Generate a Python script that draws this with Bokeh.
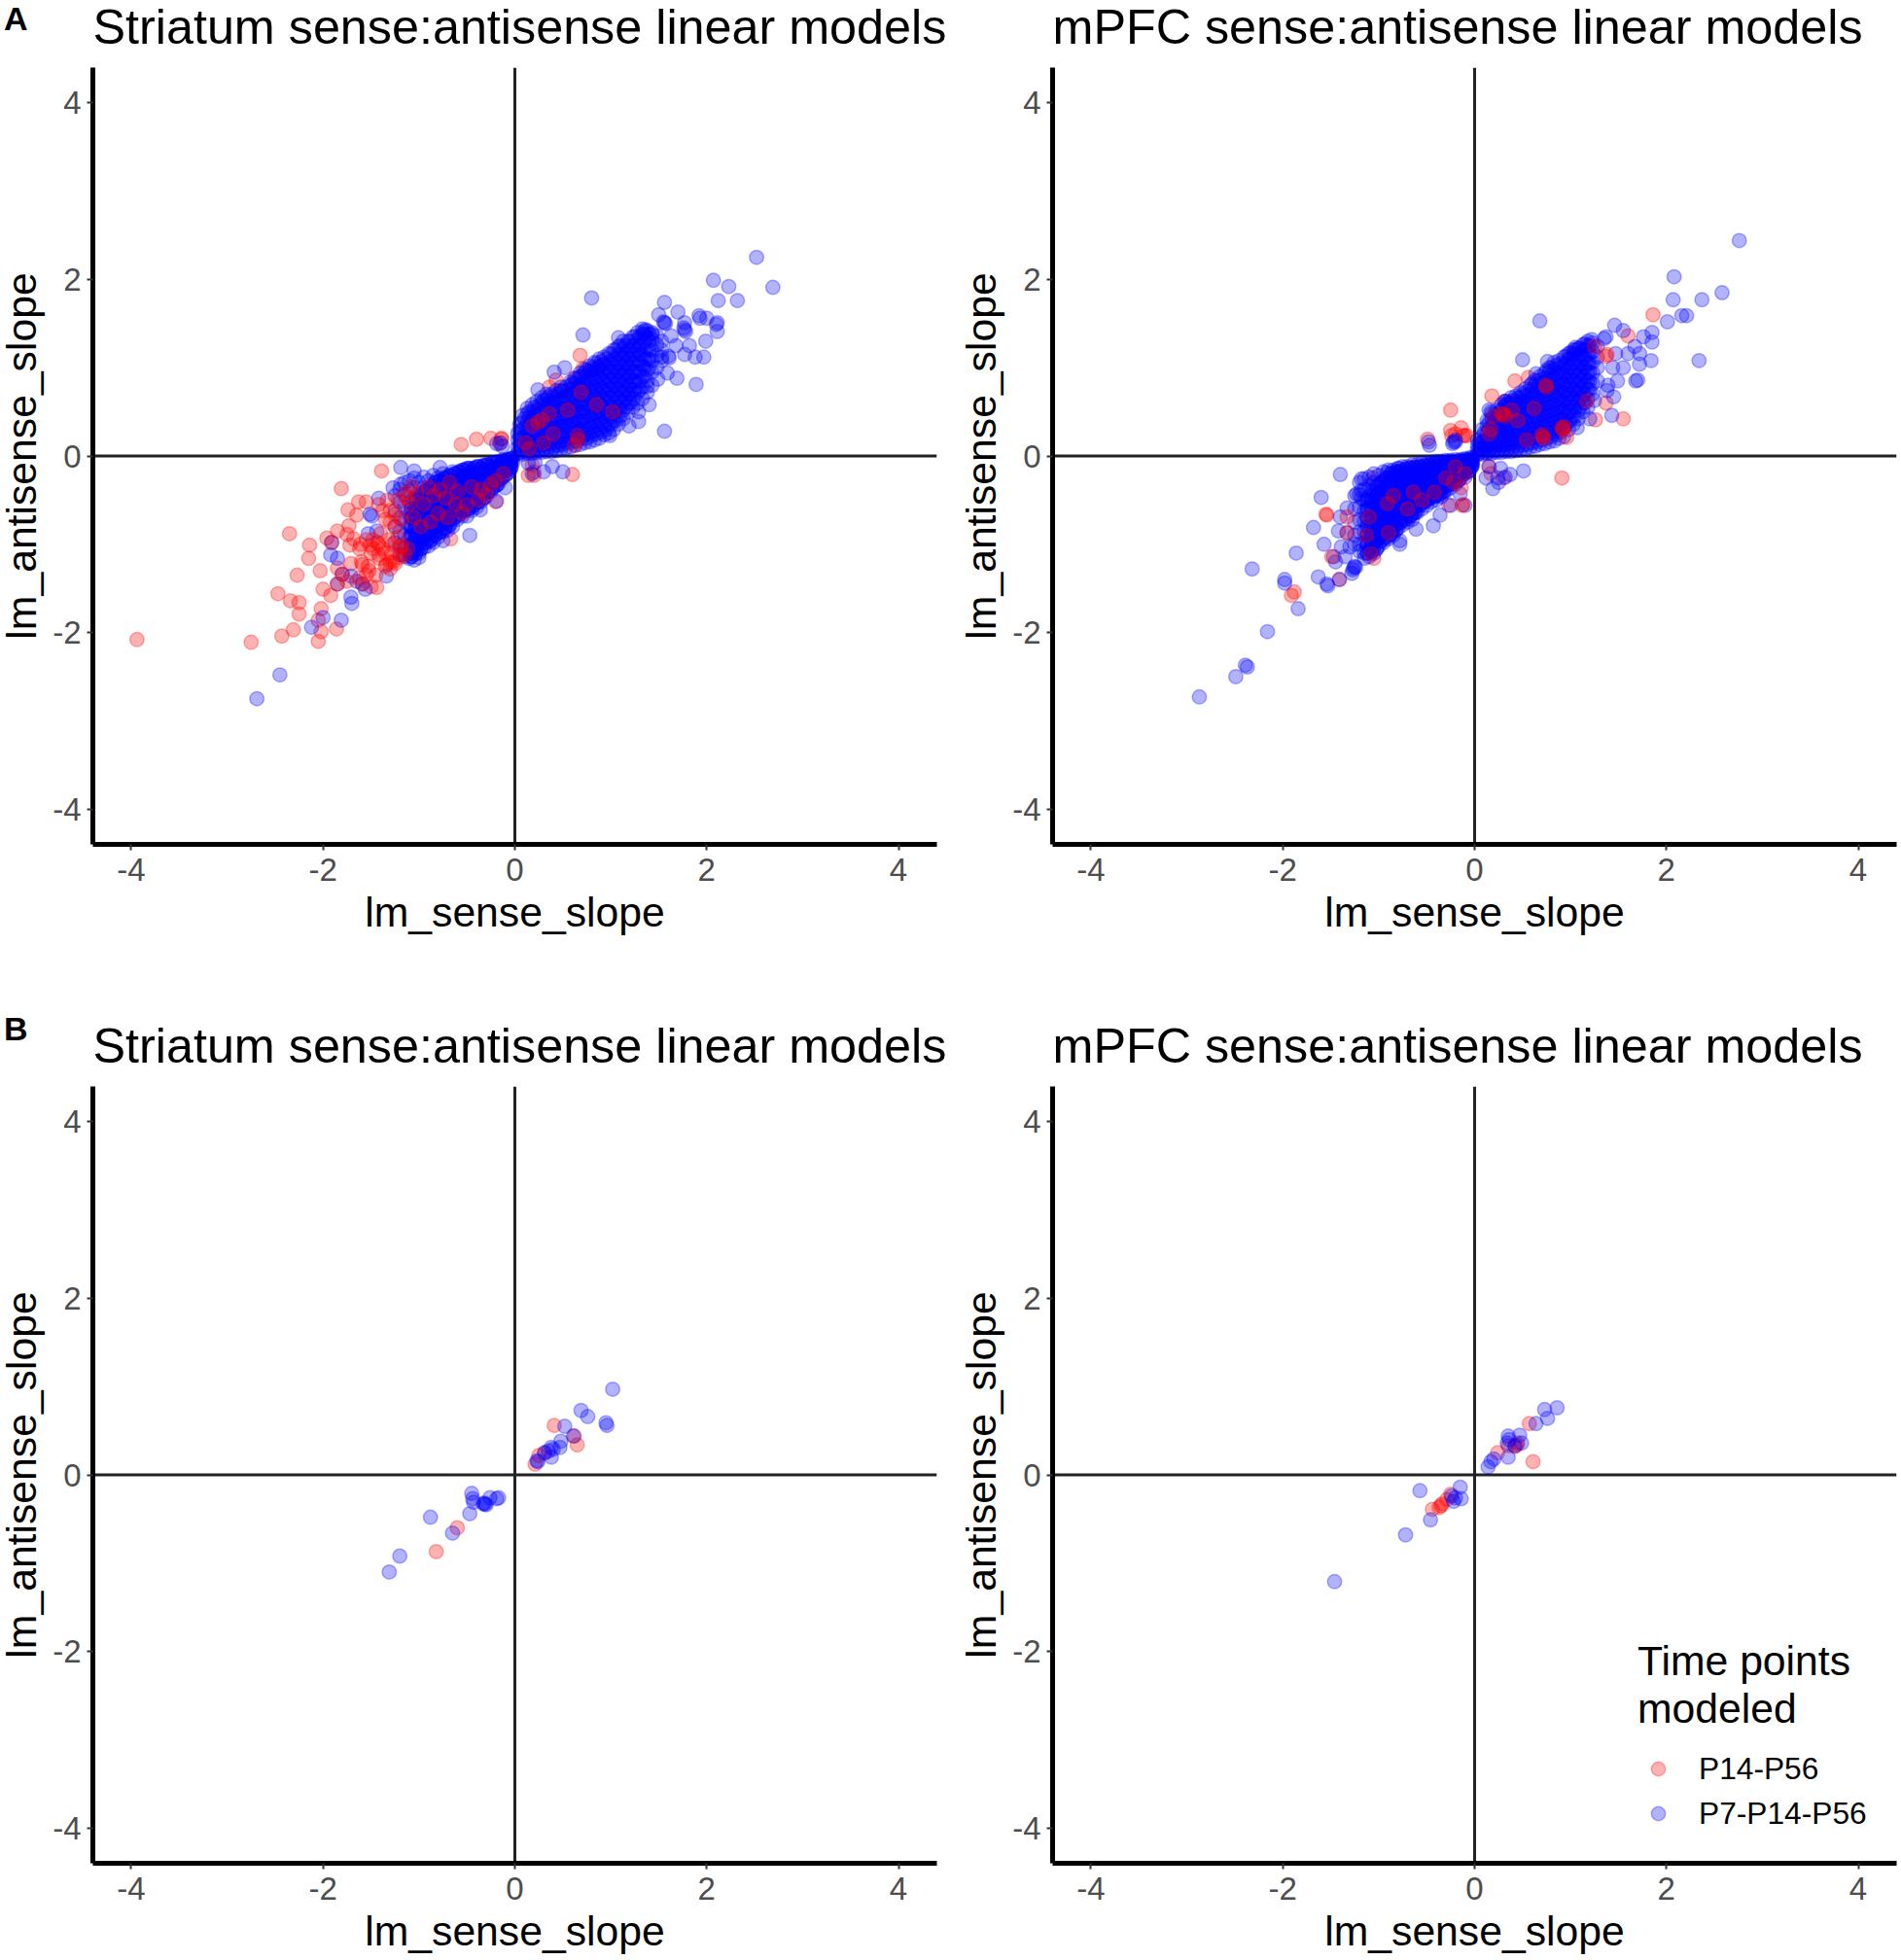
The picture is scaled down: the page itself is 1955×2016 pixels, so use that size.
from bokeh.embed import file_html
from bokeh.layouts import column, row
from bokeh.models import ColumnDataSource, Div, FixedTicker, Legend, LegendItem, Range1d, Span
from bokeh.plotting import figure
from bokeh.resources import INLINE

FONT = "Liberation Sans"
RED = "#ff0000"
BLUE = "#0000ff"

# Values. Dense bands are kept as (x, [y, y, ...]) columns.
tick_values = [-4, -2, 0, 2, 4]
tick_labels = {-4: "-4", -2: "-2", 0: "0", 2: "2", 4: "4"}

# panel A, striatum
a_str_blue_neg = [(-1.25, [-.45, -.62, -.8, -.98]), (-1.2, [-.38, -.52, -.7, -.86, -1.02, -1.12]),
    (-1.15, [-.3, -.44, -.58, -.74, -.9, -1.04, -1.14]), (-1.1, [-.28, -.4, -.52, -.66, -.8, -.92, -1.06, -1.16]),
    (-1.05, [-.25, -.36, -.48, -.6, -.72, -.85, -.97, -1.08, -1.18]), (-1.0, [-.3, -.42, -.54, -.66, -.78, -.88, -1.0, -1.1, -1.15]),
    (-.95, [-.24, -.36, -.48, -.6, -.7, -.82, -.93, -1.04]), (-.9, [-.28, -.4, -.5, -.62, -.72, -.84, -.94, -1.02]),
    (-.85, [-.22, -.34, -.44, -.56, -.66, -.76, -.88, -.98]), (-.8, [-.25, -.36, -.48, -.58, -.7, -.8, -.92]),
    (-.75, [-.2, -.3, -.42, -.52, -.64, -.74, -.86]), (-.7, [-.24, -.34, -.46, -.56, -.66, -.76, -.84]),
    (-.65, [-.18, -.28, -.38, -.5, -.6, -.7, -.8]), (-.6, [-.2, -.32, -.42, -.52, -.62, -.72]),
    (-.55, [-.16, -.26, -.36, -.46, -.56, -.68]), (-.5, [-.14, -.22, -.3, -.4, -.5, -.6, -.68]),
    (-.45, [-.18, -.26, -.34, -.44, -.54, -.62]), (-.4, [-.12, -.2, -.3, -.38, -.48, -.58]),
    (-.35, [-.14, -.24, -.32, -.42, -.52]), (-.3, [-.1, -.18, -.26, -.36, -.46]), (-.25, [-.12, -.2, -.3, -.4]),
    (-.2, [-.08, -.16, -.24, -.34]), (-.15, [-.1, -.18, -.27]), (-.1, [-.06, -.14, -.22]),
    (-.05, [-.04, -.1, -.16]), (-.02, [-.02, -.07])]
a_str_blue_neg_core = [(-1.08, [-.6, -.7, -.8, -.9, -1.0, -1.1, -1.14]), (-1.03, [-.5, -.6, -.7, -.8, -.9, -1.0, -1.1]),
    (-.98, [-.45, -.55, -.65, -.75, -.85, -.95, -1.05]), (-.93, [-.4, -.5, -.6, -.7, -.8, -.9, -.98]),
    (-.88, [-.36, -.46, -.56, -.66, -.76, -.86, -.96]), (-.83, [-.3, -.4, -.5, -.6, -.7, -.8, -.9]),
    (-.78, [-.28, -.38, -.48, -.58, -.68, -.78, -.86]), (-.73, [-.25, -.35, -.45, -.55, -.65, -.75, -.82]),
    (-.68, [-.22, -.32, -.42, -.52, -.62, -.72, -.78]), (-.63, [-.2, -.3, -.4, -.5, -.6, -.7]),
    (-.58, [-.18, -.28, -.38, -.48, -.58, -.66]), (-.53, [-.16, -.25, -.34, -.44, -.54, -.62]),
    (-.48, [-.14, -.24, -.32, -.42, -.52, -.6]), (-.43, [-.14, -.22, -.3, -.4, -.5, -.56]),
    (-.38, [-.12, -.2, -.28, -.36, -.44, -.52]), (-.33, [-.11, -.19, -.27, -.35, -.43, -.48]),
    (-.28, [-.1, -.17, -.25, -.33, -.4]), (-.23, [-.08, -.15, -.22, -.3, -.36]), (-.18, [-.07, -.13, -.2, -.27, -.32]),
    (-.13, [-.05, -.11, -.17, -.24]), (-.08, [-.04, -.09, -.15, -.2]), (-.04, [-.03, -.08, -.13])]
a_str_blue_pos = [(.03, [.03, .1, .18, .26]), (.08, [.02, .1, .2, .3, .38, .46]), (.13, [.03, .1, .18, .28, .38, .48, .54]),
    (.18, [.03, .1, .2, .3, .4, .5, .58]), (.23, [.04, .12, .22, .32, .42, .52, .62]), (.28, [.04, .12, .2, .3, .4, .5, .6, .66]),
    (.33, [.05, .14, .24, .34, .44, .54, .64, .7]), (.38, [.05, .14, .22, .32, .42, .52, .62, .7]),
    (.43, [.06, .16, .26, .36, .46, .56, .66, .74]), (.48, [.08, .16, .26, .34, .44, .54, .64, .74, .78]),
    (.53, [.09, .18, .28, .38, .48, .58, .68, .78]), (.58, [.1, .2, .3, .4, .5, .6, .7, .8, .84]),
    (.63, [.12, .22, .32, .42, .52, .62, .72, .82, .88]), (.68, [.13, .22, .3, .4, .5, .6, .7, .8, .9, .94]),
    (.73, [.15, .24, .34, .44, .54, .64, .74, .84, .94, .98]), (.78, [.16, .26, .36, .46, .56, .66, .76, .86, .96, 1.02]),
    (.83, [.18, .28, .38, .48, .58, .68, .78, .88, .98, 1.06]), (.88, [.2, .3, .4, .5, .6, .7, .8, .9, 1.0, 1.1]),
    (.93, [.24, .34, .44, .54, .64, .74, .84, .94, 1.04, 1.12]), (.98, [.26, .36, .46, .56, .66, .76, .86, .96, 1.06, 1.16]),
    (1.03, [.3, .4, .5, .6, .7, .8, .9, 1.0, 1.1, 1.2]), (1.08, [.36, .46, .56, .66, .76, .86, .96, 1.06, 1.16, 1.24]),
    (1.13, [.42, .52, .62, .72, .82, .92, 1.02, 1.12, 1.22, 1.3]), (1.18, [.5, .6, .7, .8, .9, 1.0, 1.1, 1.2, 1.3]),
    (1.23, [.55, .65, .75, .85, .95, 1.05, 1.15, 1.25, 1.35]), (1.28, [.6, .72, .84, .96, 1.08, 1.2, 1.32, 1.4]),
    (1.33, [.65, .78, .9, 1.02, 1.14, 1.26, 1.38, 1.44]), (1.38, [.72, .85, .98, 1.1, 1.22, 1.34, 1.42]),
    (1.43, [.8, .95, 1.08, 1.2, 1.32, 1.4]), (1.48, [1.0, 1.14, 1.26, 1.36]), (1.53, [1.08, 1.2, 1.3])]
a_str_blue_pos_core = [(.05, [.04, .12, .2, .28, .36]), (.1, [.05, .13, .22, .32, .42]), (.15, [.06, .14, .24, .34, .44, .5]),
    (.2, [.06, .15, .25, .35, .45, .55]), (.25, [.07, .17, .27, .37, .47, .57]), (.3, [.08, .17, .27, .37, .47, .57, .63]),
    (.35, [.1, .2, .3, .4, .5, .6, .67]), (.4, [.1, .2, .3, .4, .5, .6, .68]), (.45, [.12, .22, .32, .42, .52, .62, .7]),
    (.5, [.13, .23, .33, .43, .53, .63, .73]), (.55, [.15, .25, .35, .45, .55, .65, .75]), (.6, [.16, .26, .36, .46, .56, .66, .76, .82]),
    (.65, [.17, .27, .37, .47, .57, .67, .77, .87]), (.7, [.2, .3, .4, .5, .6, .7, .8, .9]), (.75, [.2, .3, .4, .5, .6, .7, .8, .9, .97]),
    (.8, [.23, .33, .43, .53, .63, .73, .83, .93, 1.0]), (.85, [.25, .35, .45, .55, .65, .75, .85, .95, 1.05]),
    (.9, [.27, .37, .47, .57, .67, .77, .87, .97, 1.07]), (.95, [.3, .4, .5, .6, .7, .8, .9, 1.0, 1.1]),
    (1.0, [.35, .45, .55, .65, .75, .85, .95, 1.05, 1.15]), (1.05, [.4, .5, .6, .7, .8, .9, 1.0, 1.1, 1.2]),
    (1.1, [.45, .55, .65, .75, .85, .95, 1.05, 1.15, 1.25]), (1.15, [.55, .65, .75, .85, .95, 1.05, 1.15, 1.25]),
    (1.2, [.6, .7, .8, .9, 1.0, 1.1, 1.2, 1.3]), (1.25, [.65, .75, .85, .95, 1.05, 1.15, 1.25, 1.35]),
    (1.3, [.75, .85, .95, 1.05, 1.15, 1.25, 1.35]), (1.35, [.9, 1.0, 1.1, 1.2, 1.3, 1.38]), (1.4, [1.0, 1.1, 1.2, 1.3, 1.38])]
a_str_blue_pts = [(-2.69, -2.75), (-2.45, -2.48), (-2.12, -1.94), (-2.0, -1.83), (-1.81, -1.86), (-1.7, -1.67), (-1.71, -1.6),
    (-1.85, -1.16), (-1.92, -1.12), (-1.91, -.98), (-1.71, -1.36), (-1.8, -1.34), (-1.59, -1.45), (-1.56, -1.51), (-1.65, -1.42),
    (-1.34, -1.36), (-1.85, -1.45), (-1.53, -.88), (-1.44, -.85), (-1.51, -.66), (-1.49, -.68), (-1.42, -.48), (-1.27, -.36),
    (-1.19, -.13), (-1.05, -.17), (-1.19, -.32), (-.78, -.13), (-.47, -.9), (-.75, -.96), (-.19, -.51), (-.36, -.61), (-.1, -.36),
    (-.19, .14), (-.13, .11), (-.15, .15), (2.52, 2.25), (2.69, 1.91), (2.07, 1.99), (2.23, 1.92), (2.12, 1.76), (2.32, 1.76),
    (1.56, 1.74), (1.5, 1.6), (1.7, 1.63), (1.56, 1.51), (1.55, 1.52), (1.57, 1.5), (1.92, 1.59), (1.93, 1.56), (2.0, 1.56), (2.11, 1.51),
    (2.1, 1.49), (2.11, 1.41), (1.77, 1.43), (1.78, 1.41), (1.76, 1.45), (1.77, 1.51), (1.99, 1.3), (1.82, 1.25), (1.77, 1.15), (1.88, 1.12),
    (1.97, 1.12), (1.89, .81), (1.69, .88), (1.56, .28), (.8, 1.79), (.71, 1.37), (1.08, 1.34), (.52, 1.0), (.41, .95), (.24, .75),
    (.87, 1.01), (1.49, .87), (1.59, .94), (1.38, .79), (1.4, .58), (1.29, .5), (1.19, .34), (1.29, .39), (.99, .23), (1.63, 1.36),
    (1.68, 1.25), (1.61, 1.11), (1.6, 1.13), (1.53, 1.12), (1.34, 1.41), (1.36, 1.43), (1.43, 1.38), (.14, -.08), (.21, -.07),
    (.39, -.12), (.5, -.18), (.3, -.18), (.18, -.2)]
a_str_red_pts = [(-3.94, -2.08), (-2.75, -2.11), (-2.43, -2.04), (-2.31, -1.97), (-2.05, -2.1), (-1.86, -1.96), (-2.25, -1.79),
    (-2.25, -1.66), (-2.34, -1.64), (-2.47, -1.56), (-2.27, -1.35), (-2.03, -1.3), (-2.15, -1.16), (-2.14, -1.01), (-2.35, -.88),
    (-1.81, -.37), (-1.39, -.17), (-1.74, -.61), (-1.63, -.52), (-1.55, -.52), (-1.65, -.67), (-1.85, -.85), (-1.96, -.93),
    (-1.73, -.79), (-1.75, -.89), (-1.72, -1.01), (-1.61, -1.0), (-1.51, -1.01), (-1.43, -.98), (-2.0, -1.51), (-1.92, -1.58),
    (-2.02, -1.73), (-2.05, -1.86), (-2.02, -1.99), (-1.85, -1.27), (-1.71, -1.22), (-1.59, -1.23), (-1.53, -1.25), (-1.44, -1.49),
    (-1.5, -1.48), (-1.34, -1.23), (-1.27, -1.2), (-1.17, -1.12), (-1.41, -1.16), (-.56, .13), (-.4, .19), (-.25, .2), (-.14, .2),
    (-.67, -.94), (.68, 1.14), (.71, .99), (.43, .86), (.36, .78), (.62, .88), (.5, .74), (.9, 1.03), (.6, -.21), (-.14, .19), (-.16, .14),
    (.18, -.1), (.2, -.18), (.2, -.22), (.14, -.22), (-.2, -.52)]
a_str_red_top = [(-1.35, -1.25), (-1.3, -1.2), (-1.25, -1.22), (-1.2, -1.15), (-1.15, -1.12), (-1.28, -1.1), (-1.2, -1.05), (-1.35, -1.1),
    (-1.42, -1.0), (-1.48, -.95), (-1.4, -.88), (-1.35, -.72), (-1.3, -.62), (-1.22, -.5), (-1.15, -.42), (-1.08, -.35), (-1.1, -.55),
    (-1.05, -.7), (-.95, -.55), (-.88, -.75), (-.85, -.45), (-.8, -.65), (-.72, -.48), (-.7, -.7), (-.62, -.55), (-.6, -.4), (-.55, -.65),
    (-.5, -.55), (-.45, -.35), (-.38, -.5), (-.35, -.38), (-.3, -.44), (-.25, -.32), (-.2, -.28), (-.12, -.2), (-1.85, -1.45), (-1.91, -.98),
    (-1.59, -1.45), (-1.8, -1.34), (-1.6, -1.2), (-1.3, -1.28), (.28, .41), (.18, .34), (.36, .48), (.65, .23), (.66, .18), (.62, .12),
    (.69, .72), (.85, .58), (1.02, .5), (.55, .52), (.11, .15), (.24, .38), (.4, .25), (.3, .15), (.15, .08),
    (-1.68, -.94), (-1.62, -1.05), (-1.55, -.95), (-1.5, -1.1), (-1.48, -1.05), (-1.42, -1.12), (-1.38, -1.05), (-1.32, -.95), (-1.28, -1.0),
    (-1.22, -.92), (-1.18, -1.02), (-1.12, -1.05), (-1.25, -.8), (-1.3, -.75), (-1.38, -.62), (-1.42, -.55), (-1.33, -.5), (-1.25, -.66),
    (-1.18, -.72), (-1.12, -.48), (-1.02, -.42), (-.98, -.8), (-.9, -.35), (-.78, -.38), (-.68, -.3), (-1.52, -1.3), (-1.62, -1.38),
    (-1.45, -1.35), (-1.75, -1.42), (-1.55, -1.35)]

# panel A, mPFC
a_pfc_blue_neg = [(-1.25, [-.45, -.6, -.75, -.9, -1.0]), (-1.2, [-.3, -.44, -.58, -.72, -.86, -1.0, -1.08]),
    (-1.15, [-.26, -.38, -.5, -.62, -.74, -.86, -.98, -1.1, -1.16]), (-1.1, [-.24, -.34, -.46, -.58, -.7, -.82, -.94, -1.06, -1.14]),
    (-1.05, [-.2, -.3, -.42, -.54, -.66, -.78, -.9, -1.02, -1.1]), (-1.0, [-.22, -.32, -.42, -.52, -.62, -.72, -.82, -.92, -1.02]),
    (-.95, [-.18, -.28, -.38, -.48, -.58, -.68, -.78, -.88, -.98]), (-.9, [-.16, -.26, -.36, -.46, -.56, -.66, -.76, -.86, -.94]),
    (-.85, [-.16, -.25, -.34, -.44, -.54, -.64, -.74, -.84, -.9]), (-.8, [-.14, -.22, -.32, -.42, -.52, -.62, -.72, -.82]),
    (-.75, [-.12, -.2, -.3, -.4, -.5, -.6, -.7, -.78]), (-.7, [-.12, -.2, -.28, -.38, -.48, -.58, -.68, -.75]),
    (-.65, [-.1, -.18, -.26, -.36, -.46, -.56, -.66, -.72]), (-.6, [-.1, -.17, -.26, -.34, -.44, -.54, -.64]),
    (-.55, [-.08, -.16, -.24, -.32, -.42, -.52, -.6]), (-.5, [-.08, -.14, -.22, -.3, -.4, -.5, -.56]),
    (-.45, [-.07, -.13, -.2, -.28, -.36, -.44, -.52]), (-.4, [-.06, -.12, -.2, -.28, -.36, -.44, -.5]),
    (-.35, [-.06, -.12, -.18, -.26, -.34, -.42, -.46]), (-.3, [-.05, -.11, -.17, -.24, -.32, -.4]),
    (-.25, [-.05, -.1, -.16, -.22, -.3, -.36]), (-.2, [-.04, -.1, -.16, -.22, -.28, -.32]), (-.15, [-.04, -.09, -.14, -.2, -.26]),
    (-.1, [-.03, -.08, -.13, -.18, -.24]), (-.05, [-.02, -.07, -.12, -.16]), (-.02, [-.02, -.06, -.1])]
a_pfc_blue_neg_core = [(-1.12, [-.5, -.6, -.7, -.8, -.9, -1.0, -1.1]), (-1.07, [-.4, -.5, -.6, -.7, -.8, -.9, -1.0, -1.08]),
    (-1.02, [-.35, -.45, -.55, -.65, -.75, -.85, -.95, -1.05]), (-.97, [-.3, -.4, -.5, -.6, -.7, -.8, -.9, -.96]),
    (-.92, [-.25, -.35, -.45, -.55, -.65, -.75, -.85, -.92]), (-.87, [-.2, -.3, -.4, -.5, -.6, -.7, -.8, -.88]),
    (-.82, [-.18, -.28, -.38, -.48, -.58, -.68, -.78, -.84]), (-.77, [-.17, -.25, -.35, -.45, -.55, -.65, -.75]),
    (-.72, [-.15, -.24, -.33, -.43, -.53, -.63, -.72]), (-.67, [-.14, -.22, -.31, -.41, -.51, -.61, -.68]),
    (-.62, [-.13, -.21, -.3, -.38, -.48, -.58, -.64]), (-.57, [-.12, -.2, -.28, -.36, -.46, -.56]),
    (-.52, [-.11, -.18, -.26, -.34, -.44, -.52]), (-.47, [-.1, -.17, -.24, -.32, -.4, -.48]), (-.42, [-.09, -.16, -.23, -.31, -.39, -.46]),
    (-.37, [-.08, -.15, -.22, -.3, -.38, -.44]), (-.32, [-.08, -.14, -.2, -.27, -.34, -.4]), (-.27, [-.07, -.13, -.19, -.26, -.33]),
    (-.22, [-.07, -.12, -.18, -.24, -.3]), (-.17, [-.06, -.11, -.17, -.22, -.28]), (-.12, [-.05, -.1, -.15, -.21]),
    (-.07, [-.04, -.09, -.14, -.18]), (-.03, [-.04, -.08, -.12])]
a_pfc_blue_pos = [(.03, [.02, .07, .12, .18]), (.08, [.02, .08, .15, .22, .3]), (.13, [.03, .1, .18, .26, .34, .4]),
    (.18, [.03, .1, .18, .26, .34, .42, .48]), (.23, [.04, .12, .2, .28, .36, .44, .52]), (.28, [.04, .12, .2, .28, .36, .44, .52, .58]),
    (.33, [.05, .13, .22, .3, .4, .5, .58, .62]), (.38, [.05, .14, .22, .32, .42, .52, .6, .66]), (.43, [.06, .15, .24, .34, .44, .54, .62, .68]),
    (.48, [.07, .16, .26, .36, .46, .56, .66, .72]), (.53, [.08, .18, .28, .38, .48, .58, .68, .76]), (.58, [.1, .2, .3, .4, .5, .6, .7, .8]),
    (.63, [.11, .2, .3, .4, .5, .6, .7, .8, .86]), (.68, [.13, .22, .32, .42, .52, .62, .72, .82, .9]),
    (.73, [.14, .24, .34, .44, .54, .64, .74, .84, .94]), (.78, [.16, .26, .36, .46, .56, .66, .76, .86, .96, 1.0]),
    (.83, [.17, .27, .38, .48, .58, .68, .78, .88, .98, 1.06]), (.88, [.2, .3, .4, .5, .6, .7, .8, .9, 1.0, 1.08]),
    (.93, [.22, .32, .42, .52, .62, .72, .82, .92, 1.02, 1.12]), (.98, [.3, .4, .5, .6, .7, .8, .9, 1.0, 1.1, 1.16]),
    (1.03, [.36, .46, .56, .66, .76, .86, .96, 1.06, 1.16, 1.2]), (1.08, [.42, .52, .62, .72, .82, .92, 1.02, 1.12, 1.22]),
    (1.13, [.5, .6, .7, .8, .9, 1.0, 1.1, 1.2, 1.26]), (1.18, [.55, .65, .75, .85, .95, 1.05, 1.15, 1.25, 1.3]),
    (1.23, [.7, .82, .94, 1.06, 1.18, 1.28]), (1.28, [.85, 1.0, 1.12, 1.24])]
a_pfc_blue_pos_core = [(.05, [.03, .09, .15]), (.1, [.04, .11, .18, .26]), (.15, [.05, .13, .21, .3, .38]), (.2, [.06, .14, .22, .3, .38, .46]),
    (.25, [.07, .16, .24, .32, .4, .48]), (.3, [.08, .16, .24, .32, .4, .48, .55]), (.35, [.09, .18, .26, .35, .45, .55, .6]),
    (.4, [.1, .18, .27, .37, .47, .57, .63]), (.45, [.1, .2, .29, .39, .49, .59, .66]), (.5, [.12, .21, .31, .41, .51, .61, .7]),
    (.55, [.13, .23, .33, .43, .53, .63, .73]), (.6, [.15, .25, .35, .45, .55, .65, .75, .82]), (.65, [.16, .25, .35, .45, .55, .65, .75, .85]),
    (.7, [.18, .27, .37, .47, .57, .67, .77, .87]), (.75, [.2, .29, .39, .49, .59, .69, .79, .89, .97]),
    (.8, [.22, .31, .41, .51, .61, .71, .81, .91, 1.0]), (.85, [.24, .33, .43, .53, .63, .73, .83, .93, 1.03]),
    (.9, [.27, .35, .45, .55, .65, .75, .85, .95, 1.05]), (.95, [.35, .45, .55, .65, .75, .85, .95, 1.05, 1.13]),
    (1.0, [.4, .5, .6, .7, .8, .9, 1.0, 1.1, 1.17]), (1.05, [.45, .55, .65, .75, .85, .95, 1.05, 1.15, 1.2]),
    (1.1, [.55, .65, .75, .85, .95, 1.05, 1.15, 1.22]), (1.15, [.6, .7, .8, .9, 1.0, 1.1, 1.2, 1.27]), (1.2, [.75, .85, .95, 1.05, 1.15, 1.25])]
a_pfc_blue_pts = [(-2.32, -1.28), (-2.16, -1.99), (-2.37, -2.39), (-2.39, -2.37), (-2.49, -2.5), (-2.87, -2.73), (-1.98, -1.4), (-1.98, -1.44),
    (-1.84, -1.73), (-1.86, -1.1), (-1.68, -.81), (-1.6, -.47), (-1.4, -.21), (-1.57, -1.0), (-1.63, -1.37), (-1.54, -1.45), (-1.53, -1.47),
    (-1.41, -1.4), (-1.47, -1.14), (-1.45, -1.2), (-1.4, -.69), (-1.33, -.59), (-1.42, -.85), (-1.33, -.87), (-1.39, -1.03), (-1.3, -1.03),
    (-1.35, -1.14), (-1.26, -1.27), (-1.25, -1.25), (-1.27, -1.29), (-1.24, -1.26), (-1.28, -1.33), (-1.18, -.26), (-1.23, -.43), (-1.18, -.39),
    (-1.18, -.48), (-.91, -.19), (-.79, -.14), (-.43, -.79), (-.61, -.83), (-.78, -1.0), (-.78, -.96), (-.36, -.67), (-.25, -.56), (-.1, -.56),
    (-.15, -.43), (-.47, .12), (-.48, .16), (-.22, .16), (-.2, .18), (-.23, .14), (.12, -.25), (.19, -.37), (.24, -.25), (.27, -.14),
    (2.76, 2.44), (2.08, 2.03), (2.07, 1.77), (2.37, 1.77), (2.58, 1.85), (2.01, 1.52), (2.16, 1.59), (2.21, 1.59), (2.34, 1.08), (.68, 1.53),
    (.5, 1.09), (.76, 1.07), (.64, .93), (1.46, 1.48), (1.55, 1.42), (1.85, 1.4), (1.76, 1.35), (1.85, 1.29), (1.72, 1.16), (1.84, 1.08),
    (1.72, 1.04), (1.55, 1.0), (1.44, 1.0), (1.67, 1.24), (1.6, 1.16), (1.47, 1.16), (1.68, .85), (1.7, .86), (1.49, .85), (1.39, .8), (1.38, .74),
    (1.45, .67), (1.43, .46), (1.2, .42), (1.07, .32), (1.35, 1.33), (1.37, 1.35), (1.22, 1.32), (1.05, 1.23), (1.25, .63), (.15, .52), (.17, .5),
    (.32, .62), (-.2, .16), (.51, -.17), (.15, -.12), (.37, -.21), (.25, -.3), (.32, -.24)]
a_pfc_red_pts = [(-1.55, -.66), (-1.54, -.67), (-1.88, -1.54), (-1.91, -1.58), (-1.41, -1.4), (-1.05, -1.16), (-1.06, -.25), (-.66, -.13),
    (-.49, .19), (-.24, .23), (-.12, .23), (-.2, .25), (-.08, .23), (-.14, .32), (-.25, .52), (-.25, .29), (-.1, .23), (.15, -.12),
    (.17, -.2), (1.86, 1.6), (1.6, 1.36), (1.55, .42), (1.26, .41), (1.37, .6), (.42, .85), (.56, .89), (.18, .68), (.31, .62), (.91, -.25),
    (-.13, -.56), (-.27, -.56), (.3, -.25)]
a_pfc_red_top = [(-1.33, -.69), (-1.33, -.87), (-1.49, -1.14), (-1.08, -1.11), (-1.13, -.9), (-.9, -.87), (-1.1, -.69), (-.91, -.54), (-.42, -.41),
    (-.64, -.41), (-.14, -.36), (-.12, -.55), (-.22, -.3), (-.7, -.6), (-.55, -.5), (-.3, -.25), (-.85, -.45), (-.2, -.12), (-.1, -.2),
    (.74, .8), (.75, .78), (1.37, 1.13), (1.38, 1.15), (1.25, 1.24), (.91, .32), (.92, .3), (.93, .33), (.71, .22), (.72, .2), (.7, .24),
    (.96, .21), (.3, .47), (.32, .45), (.28, .48), (.39, .52), (.17, .3), (1.17, .62), (.54, .18), (.62, .54), (.2, .45), (.45, .4), (.15, .25)]

# panel B, striatum
b_str_blue_pts = [(1.02, .97), (.69, .73), (.76, .66), (.95, .59), (.96, .56), (.52, .55), (.61, .44), (.48, .38), (.47, .31), (.38, .31), (.4, .29),
    (.35, .27), (.38, .2), (.31, .25), (.24, .15), (.23, .16), (-.45, -.21), (-.44, -.27), (-.26, -.26), (-.17, -.26), (-.19, -.27), (-.31, -.33),
    (-.3, -.34), (-.32, -.32), (-.33, -.33), (-.47, -.44), (-.88, -.48), (-.65, -.66), (-1.2, -.92), (-1.31, -1.1), (-.43, -.31)]
b_str_red_pts = [(.41, .56), (.62, .44), (.65, .34), (.31, .25), (.21, .12), (.25, .22), (-.6, -.6), (-.82, -.87)]

# panel B, mPFC
b_pfc_blue_pts = [(.86, .76), (.73, .74), (.76, .64), (.64, .58), (.35, .44), (.47, .45), (.49, .36), (.34, .36), (.35, .2), (.2, .18), (.14, .09),
    (.17, .15), (.42, .33), (.36, .4), (-.15, -.14), (-.14, -.27), (-.2, -.26), (-.24, -.24), (-.22, -.3), (-.57, -.18), (-.46, -.51),
    (-.72, -.68), (-1.46, -1.21)]
b_pfc_red_pts = [(.57, .58), (.61, .15), (.24, .25), (.44, .34), (.42, .32), (.45, .36), (-.25, -.22), (-.34, -.33), (-.37, -.37), (-.35, -.35),
    (-.44, -.39), (-.29, -.28), (.35, .33)]


def expand(*groups):
    return [(x, y) for cols in groups for x, ys in cols for y in ys]


def dots(p, pts, color):
    src = ColumnDataSource(data=dict(x=[q[0] for q in pts], y=[q[1] for q in pts]))
    return p.scatter("x", "y", source=src, size=14.5, color=color, fill_alpha=0.3, line_alpha=0.3, line_width=1.5)


def panel(name, width, height, bottom, red, blue, red_top=()):
    p = figure(width=width, height=height, frame_width=868, frame_height=799, title=name,
               x_range=Range1d(-4.4, 4.4), y_range=Range1d(-4.4, 4.4),
               x_axis_label="lm_sense_slope", y_axis_label="lm_antisense_slope",
               output_backend="svg", toolbar_location=None,
               min_border_left=93, min_border_right=width - 93 - 868, min_border_top=87, min_border_bottom=bottom)
    p.grid.visible = False
    p.outline_line_color = None
    p.title.text_font = FONT
    p.title.text_font_size = "50.3px"
    p.title.text_font_style = "normal"
    p.title.text_color = "#000000"
    p.title.standoff = 28
    for ax in (p.xaxis[0], p.yaxis[0]):
        ax.ticker = FixedTicker(ticks=tick_values)
        ax.major_label_overrides = tick_labels
        ax.axis_line_width = 5
        ax.axis_line_color = "#000000"
        ax.major_tick_in = 0
        ax.major_tick_out = 6
        ax.major_tick_line_width = 2
        ax.major_tick_line_color = "#333333"
        ax.minor_tick_line_color = None
        ax.major_label_text_font = FONT
        ax.major_label_text_font_size = "33px"
        ax.major_label_text_color = "#4d4d4d"
        ax.axis_label_text_font = FONT
        ax.axis_label_text_font_size = "42.7px"
        ax.axis_label_text_font_style = "normal"
        ax.axis_label_text_color = "#000000"
    p.xaxis[0].major_label_standoff = 8
    p.xaxis[0].axis_label_standoff = 5
    p.yaxis[0].major_label_standoff = 6
    p.yaxis[0].axis_label_standoff = 5
    p.yaxis[0].major_label_orientation = "horizontal"
    for dim in ("width", "height"):
        p.add_layout(Span(location=0, dimension=dim, line_color="#222222", line_width=3, level="underlay"))
    r_red = [dots(p, red, RED)]
    r_blue = dots(p, blue, BLUE)
    if red_top:
        r_red.append(dots(p, red_top, RED))
    return p, r_red, r_blue


def letter(text, top):
    return Div(text=text, width=30, height=0, styles={"position": "absolute", "left": "4px", "top": top, "font-family": FONT,
                                                       "font-size": "34px", "font-weight": "bold", "color": "#000000"})


a1, _, _ = panel("Striatum sense:antisense linear models", 980, 1048, 162, a_str_red_pts,
                 expand(a_str_blue_neg, a_str_blue_neg_core, a_str_blue_neg_core, a_str_blue_pos, a_str_blue_pos_core) + a_str_blue_pts, a_str_red_top)
a2, _, _ = panel("mPFC sense:antisense linear models", 970, 1048, 162, a_pfc_red_pts,
                 expand(a_pfc_blue_neg, a_pfc_blue_neg_core, a_pfc_blue_neg_core, a_pfc_blue_pos, a_pfc_blue_pos_core) + a_pfc_blue_pts, a_pfc_red_top)
b1, _, _ = panel("Striatum sense:antisense linear models", 980, 986, 100, b_str_red_pts, b_str_blue_pts)
b2, red_r, blue_r = panel("mPFC sense:antisense linear models", 970, 986, 100, b_pfc_red_pts, b_pfc_blue_pts)

legend = Legend(items=[LegendItem(label="P14-P56", renderers=red_r), LegendItem(label="P7-P14-P56", renderers=[blue_r])],
                title="Time points\nmodeled", location=(602, 28), background_fill_alpha=0, border_line_color=None,
                margin=0, padding=0, spacing=0, glyph_width=42, glyph_height=36, label_height=46, label_standoff=21,
                label_text_font=FONT, label_text_font_size="31.7px", label_text_color="#000000", title_text_font=FONT,
                title_text_font_size="42.7px", title_text_font_style="normal", title_text_color="#000000", title_standoff=14)
b2.add_layout(legend)

layout = column(row(a1, a2), row(b1, b2), letter("A", "8px"), letter("B", "1047px"), margin=(-18, 0, 0, -5))

open("out.html", "w").write(file_html(layout, INLINE))
